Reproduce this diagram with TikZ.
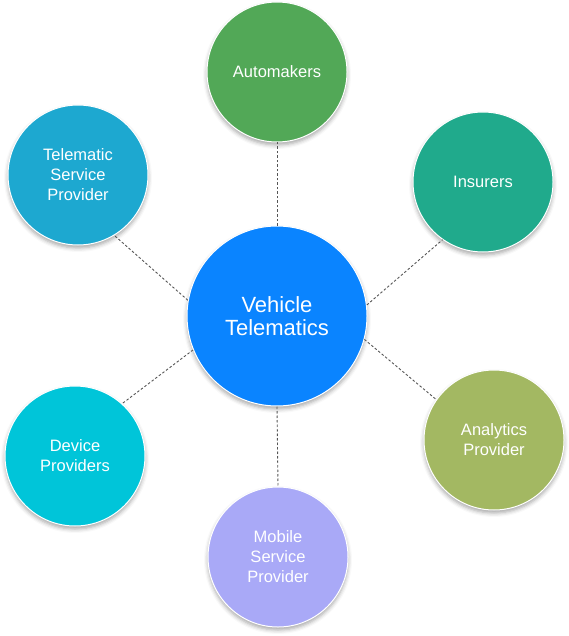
\documentclass[tikz,border=0pt]{standalone}
\usepackage{fontspec}
\setmainfont{Liberation Sans}
\usetikzlibrary{shadows.blur}
\definecolor{cblue}{HTML}{0A84FF}
\definecolor{cgreen}{HTML}{52A857}
\definecolor{cteal}{HTML}{20AA8C}
\definecolor{ccyan}{HTML}{1DA8D0}
\definecolor{caqua}{HTML}{00C5D9}
\definecolor{clav}{HTML}{A9A9F7}
\definecolor{colive}{HTML}{A3B862}
\definecolor{cline}{HTML}{555555}
\tikzset{
  bubble/.style={circle, draw=white, line width=1pt, inner sep=0pt, text=white,
    align=center, minimum size=140pt, font=\fontsize{16.5}{20}\selectfont,
    blur shadow={shadow xshift=0pt, shadow yshift=-3pt, shadow blur radius=4pt, shadow opacity=35}},
  hub/.style={bubble, minimum size=180pt, font=\fontsize{22}{23}\selectfont},
  link/.style={cline, line width=0.9pt, dash pattern=on 2.5pt off 2pt}
}
\begin{document}
\begin{tikzpicture}[x=1pt,y=-1pt]
\useasboundingbox (0,0) rectangle (569,636);
\node[hub, fill=cblue] (vt) at (277,316) {Vehicle\\Telematics};
\node[bubble, fill=cgreen] (am) at (277,72) {Automakers};
\node[bubble, fill=cteal] (ins) at (483,182) {Insurers};
\node[bubble, fill=ccyan] (tsp) at (78,175) {Telematic\\Service\\Provider};
\node[bubble, fill=caqua] (dp) at (75,456) {Device\\Providers};
\node[bubble, fill=clav] (msp) at (278,557) {Mobile\\Service\\Provider};
\node[bubble, fill=colive] (ap) at (494,440) {Analytics\\Provider};
\draw[link] (vt.90) -- (am.270);
\draw[link] (vt.7) -- (ins.235);
\draw[link] (vt.170) -- (tsp.301);
\draw[link] (vt.202) -- (dp.48);
\draw[link] (vt.270) -- (msp.90);
\draw[link] (vt.345) -- (ap.145);
\end{tikzpicture}
\end{document}
